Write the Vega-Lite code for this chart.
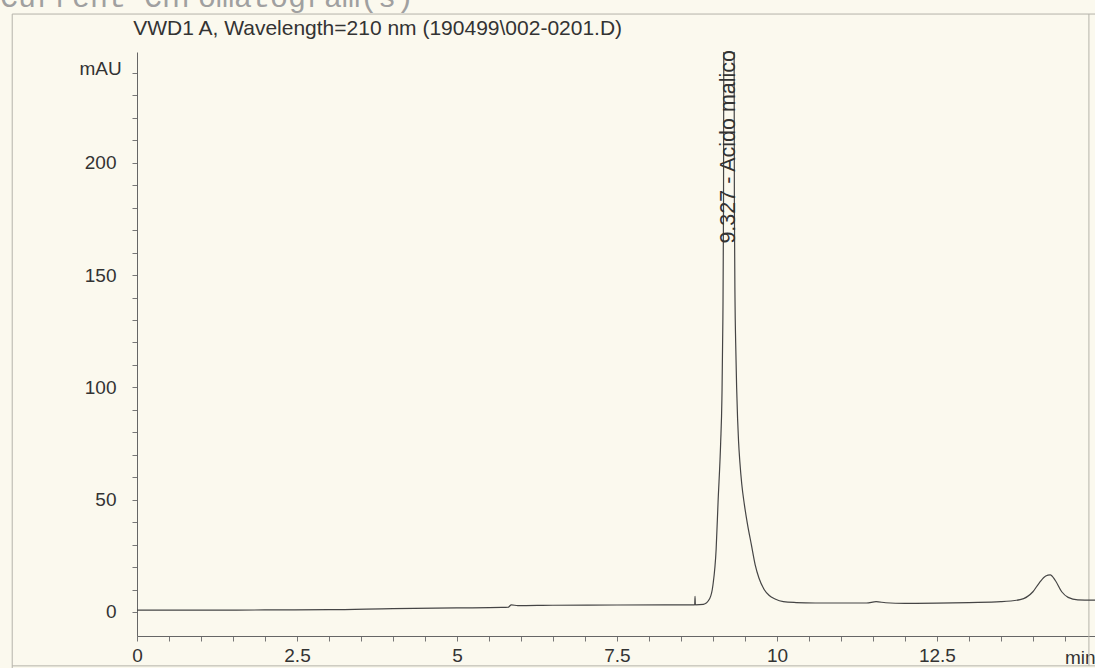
{
  "$schema": "https://vega.github.io/schema/vega-lite/v6.json",
  "autosize": {"type": "none"},
  "width": 958,
  "height": 584,
  "padding": {"left": 137, "top": 52, "right": 0, "bottom": 32},
  "background": "#fbf9ee",
  "config": {
    "view": {"stroke": null},
    "font": "Liberation Sans"
  },
  "datasets": {
    "trace": [
      {"t": 0.0, "mAU": 0.8}, {"t": 1.0, "mAU": 0.8}, {"t": 2.0, "mAU": 0.9},
      {"t": 3.0, "mAU": 1.0}, {"t": 4.0, "mAU": 1.5}, {"t": 5.0, "mAU": 1.8},
      {"t": 5.7, "mAU": 2.0}, {"t": 5.8, "mAU": 2.1}, {"t": 5.85, "mAU": 3.2},
      {"t": 5.95, "mAU": 2.8}, {"t": 6.5, "mAU": 3.0}, {"t": 7.5, "mAU": 3.1},
      {"t": 8.5, "mAU": 3.2}, {"t": 8.715, "mAU": 3.2}, {"t": 8.72, "mAU": 7.0},
      {"t": 8.725, "mAU": 3.2}, {"t": 8.85, "mAU": 3.4}, {"t": 8.95, "mAU": 6.0},
      {"t": 9.0, "mAU": 12}, {"t": 9.05, "mAU": 28}, {"t": 9.08, "mAU": 49},
      {"t": 9.12, "mAU": 75}, {"t": 9.14, "mAU": 95}, {"t": 9.155, "mAU": 130},
      {"t": 9.165, "mAU": 180}, {"t": 9.17, "mAU": 260}, {"t": 9.25, "mAU": 330},
      {"t": 9.33, "mAU": 260}, {"t": 9.335, "mAU": 180}, {"t": 9.345, "mAU": 138},
      {"t": 9.355, "mAU": 120}, {"t": 9.37, "mAU": 100}, {"t": 9.385, "mAU": 86},
      {"t": 9.40, "mAU": 76}, {"t": 9.42, "mAU": 67}, {"t": 9.45, "mAU": 57},
      {"t": 9.49, "mAU": 48}, {"t": 9.54, "mAU": 39}, {"t": 9.6, "mAU": 30},
      {"t": 9.66, "mAU": 21}, {"t": 9.72, "mAU": 15}, {"t": 9.8, "mAU": 10},
      {"t": 9.88, "mAU": 7.3}, {"t": 9.97, "mAU": 5.8},
      {"t": 10.1, "mAU": 4.6}, {"t": 10.3, "mAU": 4.2}, {"t": 10.6, "mAU": 4.0},
      {"t": 11.0, "mAU": 4.0},
      {"t": 11.4, "mAU": 4.0}, {"t": 11.55, "mAU": 4.6}, {"t": 11.7, "mAU": 4.1},
      {"t": 12.0, "mAU": 3.8}, {"t": 12.5, "mAU": 3.9}, {"t": 13.0, "mAU": 4.2},
      {"t": 13.5, "mAU": 4.6}, {"t": 13.8, "mAU": 5.5}, {"t": 14.0, "mAU": 9},
      {"t": 14.1, "mAU": 13}, {"t": 14.2, "mAU": 16}, {"t": 14.27, "mAU": 16.5},
      {"t": 14.35, "mAU": 14}, {"t": 14.45, "mAU": 9}, {"t": 14.55, "mAU": 6.5},
      {"t": 14.7, "mAU": 5.4}, {"t": 14.97, "mAU": 5.3}
    ],
    "labels": [
      {"t": 9.25, "mAU": 164, "label": "9.327 - Acido malico"}
    ],
    "header": [
      {"t": -2.14, "mAU": 269.3, "label": "Current Chromatogram(s)"}
    ],
    "caption": [
      {"t": -0.06, "mAU": 256.9, "label": "VWD1 A, Wavelength=210 nm (190499\\002-0201.D)"}
    ]
  },
  "layer": [
    {
      "data": {"values": [{}]},
      "mark": {"type": "rule", "color": "#b5b3aa", "strokeWidth": 1},
      "encoding": {
        "x": {"datum": -1.95, "type": "quantitative"},
        "y": {"datum": 266.2, "type": "quantitative"},
        "y2": {"datum": -25.6}
      }
    },
    {
      "data": {"values": [{}]},
      "mark": {"type": "rule", "color": "#b5b3aa", "strokeWidth": 1},
      "encoding": {
        "x": {"datum": 14.875, "type": "quantitative"},
        "y": {"datum": 266.2, "type": "quantitative"},
        "y2": {"datum": -24.0}
      }
    },
    {
      "data": {"values": [{}]},
      "mark": {"type": "rule", "color": "#b5b3aa", "strokeWidth": 1},
      "encoding": {
        "x": {"datum": -1.95, "type": "quantitative"},
        "x2": {"datum": 14.97},
        "y": {"datum": 266.2, "type": "quantitative"}
      }
    },
    {
      "data": {"values": [{}]},
      "mark": {"type": "rule", "color": "#b5b3aa", "strokeWidth": 1},
      "encoding": {
        "x": {"datum": -1.95, "type": "quantitative"},
        "x2": {"datum": 14.97},
        "y": {"datum": -24.0, "type": "quantitative"}
      }
    },
    {
      "data": {"name": "trace"},
      "mark": {"type": "line", "clip": true, "color": "#454545", "strokeWidth": 1.2, "interpolate": "monotone"},
      "encoding": {
        "x": {
          "field": "t", "type": "quantitative",
          "scale": {"domain": [0, 14.97], "nice": false, "zero": false},
          "axis": {
            "title": "min",
            "titleX": 958, "titleY": 21, "titleAlign": "right", "titleBaseline": "middle",
            "titleFontSize": 19, "titleFontWeight": "normal", "titleColor": "#333333",
            "values": [0,0.5,1,1.5,2,2.5,3,3.5,4,4.5,5,5.5,6,6.5,7,7.5,8,8.5,9,9.5,10,10.5,11,11.5,12,12.5,13,13.5,14,14.5],
            "tickCount": 200,
            "labelExpr": "datum.value % 2.5 === 0 ? format(datum.value, '~g') : ''",
            "labelOverlap": false,
            "grid": false,
            "domainColor": "#666666", "tickColor": "#777777",
            "tickSize": 5, "labelPadding": 5, "labelFontSize": 19, "labelColor": "#333333",
            "labelFlush": false
          }
        },
        "y": {
          "field": "mAU", "type": "quantitative",
          "scale": {"domain": [-10.7, 249.3], "nice": false, "zero": false},
          "axis": {
            "title": "mAU",
            "titleAngle": 0, "titleX": -37, "titleY": 16, "titleAlign": "center", "titleBaseline": "middle",
            "titleFontSize": 19, "titleFontWeight": "normal", "titleColor": "#333333",
            "values": [0,10,20,30,40,50,60,70,80,90,100,110,120,130,140,150,160,170,180,190,200,210,220,230,240],
            "tickCount": 200,
            "labelExpr": "datum.value % 50 === 0 ? format(datum.value, '~g') : ''",
            "labelOverlap": false,
            "grid": false,
            "domainColor": "#666666", "tickColor": "#777777",
            "tickSize": 5, "labelPadding": 16, "labelFontSize": 19, "labelColor": "#333333"
          }
        }
      }
    },
    {
      "data": {"name": "labels"},
      "mark": {"type": "text", "angle": 270, "align": "left", "baseline": "middle", "fontSize": 21.5, "color": "#333333", "clip": false},
      "encoding": {
        "x": {"field": "t", "type": "quantitative"},
        "y": {"field": "mAU", "type": "quantitative"},
        "text": {"field": "label"}
      }
    },
    {
      "data": {"name": "header"},
      "mark": {"type": "text", "align": "left", "baseline": "alphabetic", "fontSize": 30, "font": "Liberation Mono", "color": "#a0a0a0", "clip": false},
      "encoding": {
        "x": {"field": "t", "type": "quantitative"},
        "y": {"field": "mAU", "type": "quantitative"},
        "text": {"field": "label"}
      }
    },
    {
      "data": {"name": "caption"},
      "mark": {"type": "text", "align": "left", "baseline": "alphabetic", "fontSize": 21, "color": "#333333", "clip": false},
      "encoding": {
        "x": {"field": "t", "type": "quantitative"},
        "y": {"field": "mAU", "type": "quantitative"},
        "text": {"field": "label"}
      }
    }
  ]
}
